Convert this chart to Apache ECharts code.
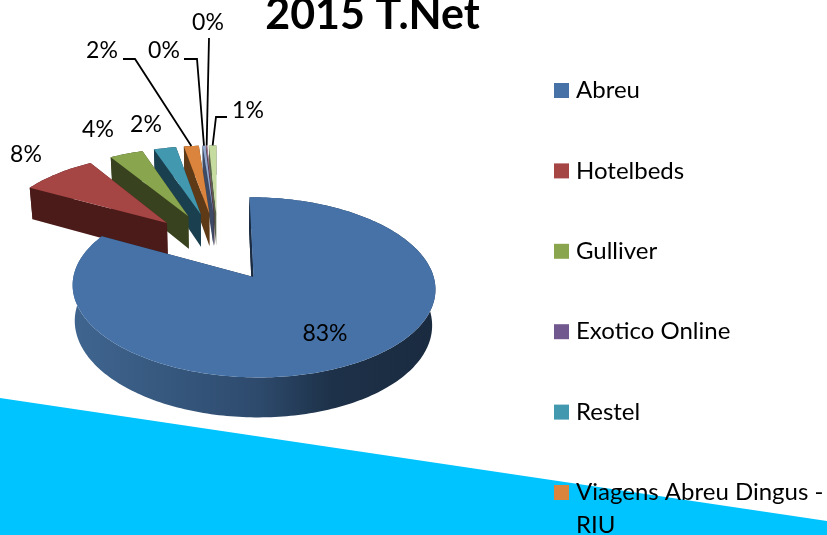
<!DOCTYPE html>
<html><head><meta charset="utf-8">
<style>html,body{margin:0;padding:0;background:#fff}#c{width:827px;height:535px}</style>
<script src="https://cdn.jsdelivr.net/npm/echarts@6/dist/echarts.min.js"></script>
</head><body><div id="c"></div>
<script>
const categories = ['Abreu','Hotelbeds','Gulliver','Exotico Online','Restel','Viagens Abreu Dingus - RIU','','',''];
const shares = [83,8.2,3.6,0,2.4,1.6,0.3,0.1,0.8];
const topColors = ['#4672A8','#A54544','#89A54E','#71588F','#4198AF','#DB843D','#93A9CF','#A0708A','#C5DBA0'];
const wallColors = ['#1b2c42','#4a1b19','#38421f','#2d2339','#1a3f4e','#5e3a17','#3c4a66','#4a3040','#58654a'];
const legendCount = 6;
// label centre and optional leader elbow for each slice (null = slice has no label)
const labelSpots = [
  {x:325,y:334},{x:26,y:155},{x:98,y:130},null,{x:146,y:125},
  {x:102,y:51,leader:[[123,59],[135,59]]},
  {x:164,y:51,leader:[[184,59],[197,59]]},
  {x:208,y:23,leader:[[209,38]]},
  {x:248,y:111,leader:[[227,117],[216,117]]}
];

// projection of the tilted, exploded pie
const total = shares.reduce((a,b)=>a+b,0);
const EXPLODE=0.42, P=0.11, AX=173, BY=82, XC=215, YC=246.1, DEPTH=34, SHRINK=0.985, BACK_SHIFT=3;
function project(u,v,low,dx){
  const w=1+P*v;
  let x=XC+AX*u/w, y=YC-BY*v/w;
  if(low){ x=XC+(x-XC)*SHRINK; y+=DEPTH/w; }
  return [x+dx,y];
}
function slicePoints(i,a0,a1){
  const mid=(a0+a1)/2, ox=EXPLODE*Math.sin(mid), oy=EXPLODE*Math.cos(mid), dx=i?BACK_SHIFT:0;
  const at=(a,low)=>project(ox+Math.sin(a),oy+Math.cos(a),low,dx);
  const arc=(s,e,low)=>{const n=Math.max(2,Math.ceil(Math.abs(e-s)/0.02));const r=[];for(let k=0;k<=n;k++)r.push(at(s+(e-s)*k/n,low));return r;};
  return {tip:low=>project(ox,oy,low,dx),at,arc,mid};
}
function renderSlice(i,a0,a1){
  return function(params,api){
    const value=api.value(0);
    const children=[];
    if(value>0){
      const s=slicePoints(i,a0,a1);
      const wallFill = i===0
        ? new echarts.graphic.LinearGradient(76,0,433,0,[
            {offset:0,color:'#3F658F'},{offset:.5,color:'#2E4B6E'},{offset:.72,color:'#1D3148'},{offset:1,color:'#1A2B40'}],true)
        : wallColors[i];
      // outer wall
      children.push({type:'polygon',z2:1,shape:{points:s.arc(a0,a1,false).concat(s.arc(a1,a0,true))},style:{fill:wallFill}});
      // cut faces
      const t=s.tip(false), b=s.tip(true);
      const cut=a=>[t,s.at(a,false),s.at(a,true),b];
      children.push({type:'polygon',z2:2,shape:{points:cut(a1)},style:{fill:wallColors[i]}});
      children.push({type:'polygon',z2:3,shape:{points:cut(a0)},style:{fill:wallColors[i]}});
      if(i===0) children.push({type:'polygon',z2:2,shape:{points:cut(2*Math.PI)},style:{fill:wallColors[0]}});
      // top face
      children.push({type:'polygon',z2:4,shape:{points:[t].concat(s.arc(a0,a1,false))},style:{fill:topColors[i]}});
    }
    const spot=labelSpots[i];
    if(spot){
      if(spot.leader){
        const s=slicePoints(i,a0,a1);
        const end=s.at(s.mid,false);
        children.push({type:'polyline',z2:5,shape:{points:spot.leader.concat([end])},style:{stroke:'#000',lineWidth:1.8,fill:null}});
      }
      children.push({type:'text',z2:6,x:spot.x,y:spot.y,style:{
        text:Math.round(value/total*100)+'%',fill:'#000',font:'23px Lato',align:'center',verticalAlign:'middle'}});
    }
    return {type:'group',children};
  };
}
let acc=0;
const series=categories.map((name,i)=>{
  const a0=acc/total*2*Math.PI; acc+=shares[i]; const a1=acc/total*2*Math.PI;
  return {type:'custom',coordinateSystem:'none',name:name||('slice'+i),
    z:2+(categories.length-i),silent:true,
    itemStyle:{color:topColors[i]},
    data:[[shares[i]]],renderItem:renderSlice(i,a0,a1)};
});
const legendItem=(name,i)=>({name,icon:'rect',itemStyle:{color:topColors[i]}});
const legendItems=categories.slice(0,legendCount).map(legendItem);
const legendBase={orient:'vertical',left:554,height:700,padding:0,itemWidth:15,itemHeight:15,selectedMode:false};
const chart=echarts.init(document.getElementById('c'),null,{renderer:'canvas'});
chart.setOption({
  animation:false,
  backgroundColor:'#fff',
  title:{text:'2015 T.Net',left:367.5,top:-11,textAlign:'center',
    textStyle:{fontFamily:'Lato',fontWeight:'bold',fontSize:43,color:'#000'}},
  legend:[
    Object.assign({},legendBase,{top:77,itemGap:53.4,data:legendItems.slice(0,5),
      textStyle:{fontFamily:'Lato',fontSize:24,lineHeight:27,color:'#000',padding:[0,0,0,2]}}),
    Object.assign({},legendBase,{top:443,data:legendItems.slice(5),
      formatter:n=>'\n'+n.replace(/ RIU$/,'\nRIU'),
      textStyle:{fontFamily:'Lato',fontSize:24,lineHeight:33,color:'#000',padding:[0,0,0,2]}})
  ],
  graphic:[{type:'polygon',silent:true,z:-10,shape:{points:[[0,398],[827,521],[827,535],[0,535]]},style:{fill:'#00C4FF'}}],
  series
});
</script></body></html>
